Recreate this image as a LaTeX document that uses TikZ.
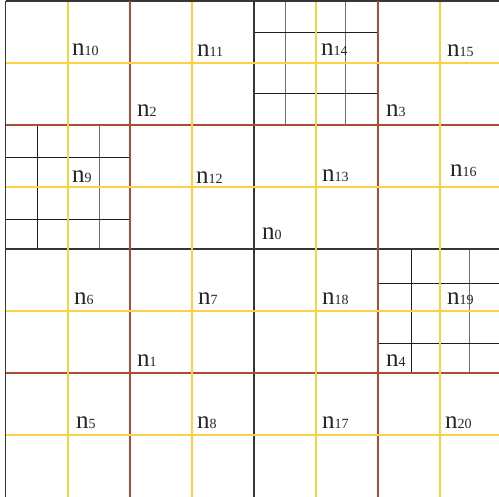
\documentclass[tikz,border=0pt]{standalone}
\usepackage{fontspec}
\setmainfont{Liberation Serif}
\definecolor{lzero}{HTML}{363636}
\definecolor{lone}{HTML}{B04A3A}
\definecolor{ltwo}{HTML}{FFD045}
\definecolor{lsubd}{HTML}{1E1E1E}
\definecolor{lsubg}{HTML}{707070}
\newcommand{\nlab}[1]{{\fontsize{25}{25}\selectfont n}{\fontsize{14}{14}\selectfont #1}}
\tikzset{
  zeroline/.style={draw=lzero, line width=1.7pt},
  oneline/.style={draw=lone, line width=1.5pt},
  twoline/.style={draw=ltwo, line width=1.7pt},
  subdark/.style={draw=lsubd, line width=0.9pt},
  subgray/.style={draw=lsubg, line width=0.9pt},
  lab/.style={anchor=base west, inner sep=0pt, text=black!85}
}
\begin{document}
\begin{tikzpicture}[x=1pt, y=-1pt]
\useasboundingbox (0,0) rectangle (499,497);
\fill[white] (0,0) rectangle (499,497);
\clip (0,0) rectangle (499,497);
% level-3 subgrids
\draw[subgray] (285,1) -- (285,125) (345,1) -- (345,125);
\draw[subdark] (254,32) -- (378,32) (254,93) -- (378,93);
\draw[subdark] (37,125) -- (37,249);
\draw[subgray] (99,125) -- (99,249);
\draw[subdark] (6,157) -- (130,157) (6,219) -- (130,219);
\draw[subdark] (411,249) -- (411,373);
\draw[subgray] (469,249) -- (469,373);
\draw[subdark] (378,283) -- (502,283) (378,343) -- (502,343);
% level 0
\draw[zeroline] (5.5,1) -- (502,1);
\draw[zeroline] (5.5,1) -- (5.5,497);
\draw[zeroline] (254,1) -- (254,497);
\draw[zeroline] (5.5,249) -- (502,249);
% level 1
\draw[oneline] (130,1) -- (130,497) (378,1) -- (378,497);
\draw[oneline] (5.5,125) -- (502,125) (5.5,373) -- (502,373);
% level 2
\foreach \p in {68,192,316,440}{
  \draw[twoline] (\p,1.8) -- (\p,497);
}
\foreach \p in {63,187,311,435}{
  \draw[twoline] (6.4,\p) -- (502,\p);
}
% labels
\node[lab] (n10) at (72,56) {\nlab{10}};
\node[lab] (n11) at (197,57) {\nlab{11}};
\node[lab] (n14) at (321,56) {\nlab{14}};
\node[lab] (n15) at (447,57) {\nlab{15}};
\node[lab] (n2) at (137,117) {\nlab{2}};
\node[lab] (n3) at (386,117) {\nlab{3}};
\node[lab] (n9) at (72,183) {\nlab{9}};
\node[lab] (n12) at (196,184) {\nlab{12}};
\node[lab] (n13) at (322,182) {\nlab{13}};
\node[lab] (n16) at (450,177) {\nlab{16}};
\node[lab] (n0) at (262,240) {\nlab{0}};
\node[lab] (n6) at (74,305) {\nlab{6}};
\node[lab] (n7) at (198,305) {\nlab{7}};
\node[lab] (n18) at (322,305) {\nlab{18}};
\node[lab] (n19) at (447,305) {\nlab{19}};
\node[lab] (n1) at (137,367) {\nlab{1}};
\node[lab] (n4) at (386,367) {\nlab{4}};
\node[lab] (n5) at (76,429) {\nlab{5}};
\node[lab] (n8) at (197,429) {\nlab{8}};
\node[lab] (n17) at (322,429) {\nlab{17}};
\node[lab] (n20) at (445,429) {\nlab{20}};
\end{tikzpicture}
\end{document}
